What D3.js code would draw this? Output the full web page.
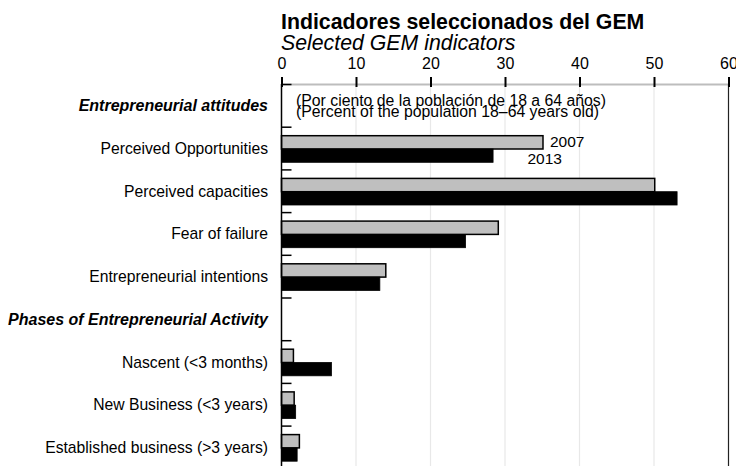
<!DOCTYPE html>
<html><head><meta charset="utf-8">
<script src="https://cdn.jsdelivr.net/npm/d3@7"></script>
<style>
body{margin:0;background:#fff;}
svg{display:block;font-family:"Liberation Sans",Arial,sans-serif;}
</style></head>
<body><svg id="c" width="736" height="466"></svg>
<script>
const categories = ["Entrepreneurial attitudes","Perceived Opportunities","Perceived capacities","Fear of failure","Entrepreneurial intentions","Phases of Entrepreneurial Activity","Nascent (<3 months)","New Business (<3 years)","Established business (>3 years)"];
const headers = ["Entrepreneurial attitudes","Phases of Entrepreneurial Activity"];
const values2007 = [null,35.1,50.1,29.1,14.0,null,1.6,1.7,2.4];
const values2013 = [null,28.4,53.1,24.7,13.2,null,6.7,1.9,2.1];
const tickValues = [0,10,20,30,40,50,60];
const seriesLabels = ["2007","2013"];
const title = "Indicadores seleccionados del GEM";
const subtitle = "Selected GEM indicators";
const note = ["(Por ciento de la población de 18 a 64 años)","(Percent of the population 18\u201364 years old)"];

const svg = d3.select("#c");
const x = d3.scaleLinear().domain([0,60]).range([281.5,728.5]);
const y = d3.scaleBand().domain(categories).range([84.5,84.5+9*42.7]).padding(0);
const bh = 13.3, off = 8.5;

// gridlines
svg.append("g").selectAll("line").data(tickValues.filter(d=>d>0&&d<60)).join("line")
  .attr("x1",d=>x(d)).attr("x2",d=>x(d)).attr("y1",84.5).attr("y2",470)
  .attr("stroke","#e8e8e8").attr("stroke-width",1.2);
// top gray axis line
svg.append("line").attr("x1",x(0)).attr("x2",x(60)).attr("y1",84.5).attr("y2",84.5)
  .attr("stroke","#bdbdbd").attr("stroke-width",2);
// right border
svg.append("line").attr("x1",x(60)).attr("x2",x(60)).attr("y1",84.5).attr("y2",470)
  .attr("stroke","#222").attr("stroke-width",1.2);

// top axis
const ax = svg.append("g").attr("transform","translate(0,87)")
  .call(d3.axisTop(x).tickValues(tickValues).tickSize(10).tickPadding(8.5));
ax.select(".domain").remove();
ax.selectAll(".tick line").attr("stroke","#000").attr("stroke-width",2);
ax.selectAll(".tick text").attr("font-size",16).attr("fill","#000").attr("font-family","Liberation Sans, Arial, sans-serif");

// bars
const rows = categories.map((c,i)=>({c,a:values2007[i],b:values2013[i]})).filter(d=>d.a!=null);
svg.append("g").selectAll("rect").data(rows).join("rect")
  .attr("x",x(0)).attr("y",d=>y(d.c)+off).attr("width",d=>x(d.a)-x(0)).attr("height",bh)
  .attr("fill","#bfbfbf").attr("stroke","#000").attr("stroke-width",1.5);
svg.append("g").selectAll("rect").data(rows).join("rect")
  .attr("x",x(0)).attr("y",d=>y(d.c)+off+bh).attr("width",d=>x(d.b)-x(0)).attr("height",bh)
  .attr("fill","#000").attr("stroke","#000").attr("stroke-width",0.8);

// left axis line
svg.append("line").attr("x1",x(0)).attr("x2",x(0)).attr("y1",84).attr("y2",470)
  .attr("stroke","#000").attr("stroke-width",1.5);
// left band ticks
const bounds = categories.map(c=>y(c)).concat([y.range()[1]]);
svg.append("g").selectAll("line").data(bounds).join("line")
  .attr("x1",x(0)).attr("x2",x(0)+10).attr("y1",d=>d).attr("y2",d=>d)
  .attr("stroke","#000").attr("stroke-width",1.5);

// category labels
svg.append("g").selectAll("text").data(categories).join("text")
  .attr("x",268).attr("y",d=>y(d)+y.bandwidth()/2).attr("dy","0.35em")
  .attr("text-anchor","end").attr("font-size",d=>headers.includes(d)?16:15.7)
  .attr("font-weight",d=>headers.includes(d)?"bold":"normal")
  .attr("font-style",d=>headers.includes(d)?"italic":"normal")
  .text(d=>d);

// series labels
const r1 = rows[0];
svg.append("text").attr("x",x(r1.a)+7).attr("y",y(r1.c)+off+bh-2).attr("font-size",15.5).text(seriesLabels[0]);
svg.append("text").attr("x",x(r1.a)-15.5).attr("y",y(r1.c)+off+2*bh+1.5).attr("font-size",15.5).text(seriesLabels[1]);

// note
svg.append("g").selectAll("text").data(note).join("text")
  .attr("x",296).attr("y",(d,i)=>105.5+i*11.8).attr("font-size",15.8).text(d=>d);

// titles
svg.append("text").attr("x",281).attr("y",28.5).attr("font-size",21.3).attr("font-weight","bold").text(title);
svg.append("text").attr("x",281).attr("y",49.5).attr("font-size",21.3).attr("font-style","italic").text(subtitle);
</script></body></html>
